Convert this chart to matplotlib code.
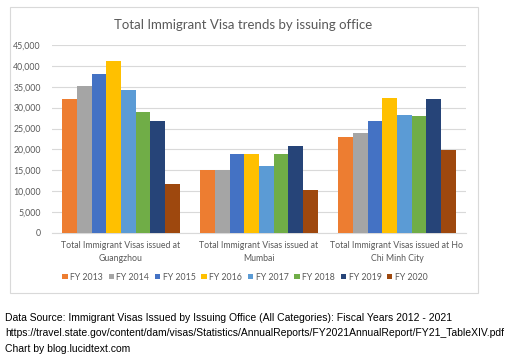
import matplotlib
matplotlib.use("Agg")
import matplotlib.pyplot as plt
import numpy as np
from matplotlib.patches import Rectangle

categories = ["Total Immigrant Visas issued at\nGuangzhou",
              "Total Immigrant Visas issued at\nMumbai",
              "Total Immigrant Visas issued at Ho\nChi Minh City"]
series_names = ["FY 2013", "FY 2014", "FY 2015", "FY 2016", "FY 2017", "FY 2018", "FY 2019", "FY 2020"]
fy2013 = [32000, 15100, 22900]
fy2014 = [35200, 15100, 24000]
fy2015 = [38100, 18800, 26900]
fy2016 = [41200, 19000, 32400]
fy2017 = [34300, 16100, 28300]
fy2018 = [29000, 19000, 28000]
fy2019 = [26900, 20900, 32100]
fy2020 = [11800, 10300, 19900]
series_values = [fy2013, fy2014, fy2015, fy2016, fy2017, fy2018, fy2019, fy2020]
colors = ["#ED7D31", "#A5A5A5", "#4472C4", "#FFC000", "#5B9BD5", "#70AD47", "#264478", "#9E480E"]
yticks = list(range(0, 45001, 5000))

plt.rcParams['font.family'] = ['Lato', 'DejaVu Sans']
fig = plt.figure(figsize=(5.12, 3.6), dpi=100)
fig.patch.set_facecolor("white")

# chart frame
fig.patches.append(Rectangle((10/512, 1-293/360), 468/512, 286/360, transform=fig.transFigure,
                             facecolor="none", edgecolor="#D9D9D9", linewidth=0.8))

ax = fig.add_axes([52/512, 1-233/360, 414/512, (233-45)/360])
x = np.arange(len(categories))
n = len(series_values)
bw = 0.106
for i, (name, vals, c) in enumerate(zip(series_names, series_values, colors)):
    ax.bar(x + (i - (n-1)/2)*bw, vals, width=bw, color=c, label=name, zorder=3)

ax.set_xlim(-0.5, 2.5)
ax.set_ylim(0, 45000)
ax.set_yticks(yticks)
ax.set_yticklabels([f"{v:,}" for v in yticks], fontsize=6.3, color="#595959")
ax.set_xticks(x)
ax.set_xticklabels(categories, fontsize=6.3, color="#595959", linespacing=1.5)
ax.tick_params(axis='both', length=0)
ax.tick_params(axis='y', pad=8)
ax.tick_params(axis='x', pad=6)
ax.grid(axis='y', color="#D9D9D9", linewidth=0.8, zorder=0)
for s in ["top", "right", "left"]:
    ax.spines[s].set_visible(False)
ax.spines["bottom"].set_color("#D9D9D9")

fig.text(243/512, 1-25/360, "Total Immigrant Visa trends by issuing office", ha="center", va="center",
         fontsize=9.5, color="#595959")

leg = fig.legend(loc="center", bbox_to_anchor=(245/512, 1-277/360), ncol=8, frameon=False,
                 fontsize=6.3, handlelength=0.6, handleheight=0.6, handletextpad=0.3, columnspacing=0.65)
for t in leg.get_texts():
    t.set_color("#595959")

foot = ["Data Source: Immigrant Visas Issued by Issuing Office (All Categories): Fiscal Years 2012 - 2021",
        "https://travel.state.gov/content/dam/visas/Statistics/AnnualReports/FY2021AnnualReport/FY21_TableXIV.pdf",
        "Chart by blog.lucidtext.com"]
for i, line in enumerate(foot):
    fig.text(5/512, 1-(318+15.5*i)/360, line, ha="left", va="center", fontsize=7.5,
             color="black", family=["Liberation Sans"])

fig.savefig("out.png", dpi=100)
